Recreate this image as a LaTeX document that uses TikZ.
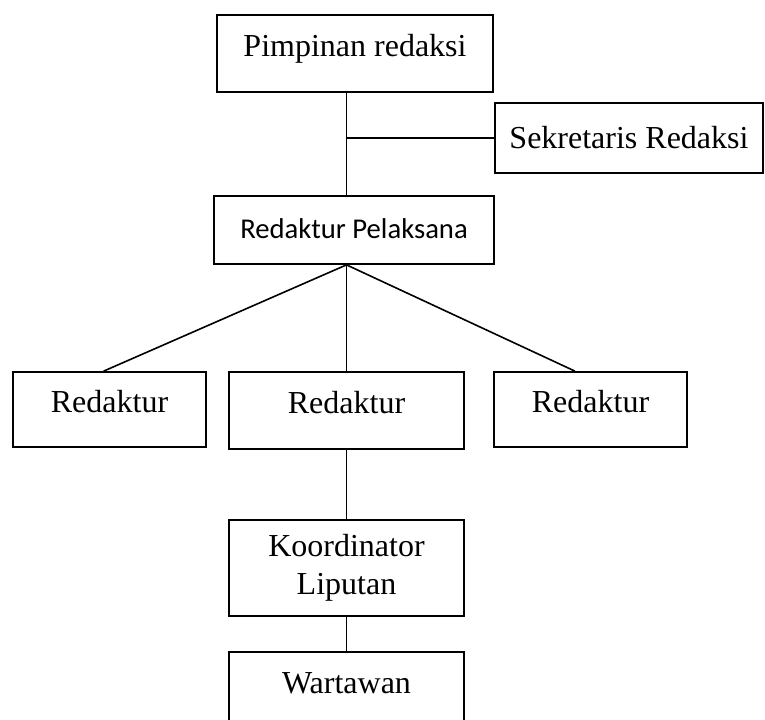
\documentclass[tikz,border=0pt]{standalone}
\usepackage{fontspec}
\setmainfont{Liberation Serif}
\newfontfamily\calibri{Carlito}
\usetikzlibrary{calc}

\begin{document}
\begin{tikzpicture}[
            x=0.75pt, y=-0.75pt,
            box/.style={draw, line width=1.3pt, inner sep=0pt, align=center,
                font=\fontsize{24}{28.5}\selectfont},
            topbox/.style={box, text height=16.5pt, text depth=12pt},
            link/.style={line width=1.2pt},
    ]
    \useasboundingbox (0, 0) rectangle (765, 720);
    \clip (0, 0) rectangle (765, 720);

    \node[topbox, minimum width=207pt, minimum height=57.75pt] (pim) at (355, 53.5) {Pimpinan redaksi};
    \node[box, minimum width=201pt, minimum height=52.5pt] (sek) at (629, 138) {Sekretaris Redaksi};
    \node[topbox, minimum width=210pt, minimum height=51pt, text depth=4pt,
        font=\calibri\fontsize{21.5}{26}\selectfont] (pel) at (354, 230) {Redaktur Pelaksana};

    \node[topbox, minimum width=144.75pt, minimum height=56.25pt] (lft) at (109.5, 409.5) {Redaktur};
    \node[topbox, minimum width=176.25pt, minimum height=57.75pt] (mid) at (346.5, 410.5) {Redaktur};
    \node[topbox, minimum width=144.75pt, minimum height=56.25pt] (rgt) at (590.5, 409.5) {Redaktur};

    \node[box, minimum width=176.25pt, minimum height=72pt] (kor) at (346.5, 568) {Koordinator\\Liputan};
    \node[topbox, minimum width=176.25pt, minimum height=57pt] (war) at (346.5, 690) {Wartawan};

    \draw[link] (pim.south -| mid.north) -- (pel.north -| mid.north);
    \draw[link] (sek.west -| mid.north) -- (sek.west);

    \coordinate (fan) at (pel.south -| mid.north);
    \draw[link] (fan) -- ($(lft.north west)!0.47!(lft.north east)$);
    \draw[link] (fan) -- (mid.north);
    \draw[link] (fan) -- ($(rgt.north west)!0.42!(rgt.north east)$);

    \draw[link] (mid.south) -- (kor.north);
    \draw[link] (kor.south) -- (war.north);
\end{tikzpicture}
\end{document}
